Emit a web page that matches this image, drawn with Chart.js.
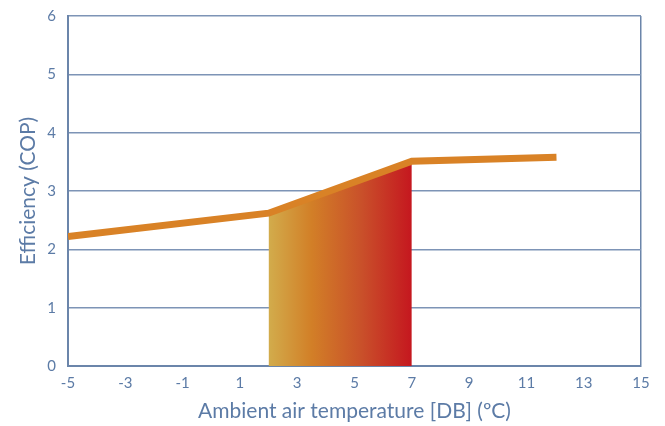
<!DOCTYPE html>
<html>
<head>
<meta charset="utf-8">
<script src="https://cdn.jsdelivr.net/npm/chart.js@4"></script>
<style>
  html, body { margin: 0; padding: 0; background: #fff; }
  #wrap { width: 665px; height: 426px; }
</style>
</head>
<body>
<div id="wrap"><canvas id="chart" width="665" height="426"></canvas></div>
<script>
// COP curve vs ambient temperature
const tempPoints = [-5, 2, 7, 12.05];
const copPoints  = [2.22, 2.62, 3.51, 3.58];
// highlighted band under the curve
const bandTemps  = [2, 7];
const bandCop    = [2.62, 3.51];
const xTicks     = [-5, -3, -1, 1, 3, 5, 7, 9, 11, 13, 15];
const yTicks     = [0, 1, 2, 3, 4, 5, 6];

const axisColor = '#6b85aa';
const textColor = '#5c7ba6';
const fontFam   = 'Lato, "Open Sans", sans-serif';

function bandGradient(ctx) {
    const chart = ctx.chart;
    const { chartArea } = chart;
    if (!chartArea) return '#d07a28';
    const x = chart.scales.x;
    const g = chart.ctx.createLinearGradient(x.getPixelForValue(bandTemps[0]), 0, x.getPixelForValue(bandTemps[1]), 0);
    g.addColorStop(0,    '#d2ac4c');
    g.addColorStop(0.3,  '#d27f27');
    g.addColorStop(0.65, '#c9502a');
    g.addColorStop(1,    '#c5171f');
    return g;
}

new Chart(document.getElementById('chart'), {
    type: 'line',
    data: {
        datasets: [
            {
                label: 'COP',
                data: tempPoints.map((t, i) => ({ x: t, y: copPoints[i] })),
                borderColor: '#d98226',
                borderWidth: 7,
                pointRadius: 0,
                tension: 0,
                fill: false,
                order: 1,
            },
            {
                label: 'band',
                data: bandTemps.map((t, i) => ({ x: t, y: bandCop[i] })),
                borderWidth: 0,
                pointRadius: 0,
                tension: 0,
                fill: 'origin',
                backgroundColor: bandGradient,
                order: 2,
            },
        ],
    },
    options: {
        responsive: false,
        animation: false,
        layout: { padding: { left: 10, right: 24, top: 16, bottom: 2 } },
        plugins: { legend: { display: false }, tooltip: { enabled: false } },
        scales: {
            x: {
                type: 'linear',
                min: -5,
                max: 15,
                afterBuildTicks(scale) { scale.ticks = xTicks.map(v => ({ value: v })); },
                afterFit(scale) { scale.height = 58; },
                grid: {
                    drawTicks: false,
                    color: c => (c.tick && c.tick.value === 15) ? axisColor : 'rgba(0,0,0,0)',
                    lineWidth: 1.5,
                },
                border: { color: axisColor, width: 2 },
                ticks: { color: textColor, font: { family: fontFam, size: 15 }, padding: 8, maxRotation: 0 },
                title: { display: true, text: 'Ambient air temperature [DB] (ºC)', color: textColor, font: { family: fontFam, size: 21 }, padding: { top: 4, bottom: 0 } },
            },
            y: {
                min: 0,
                max: 6,
                afterBuildTicks(scale) { scale.ticks = yTicks.map(v => ({ value: v })); },
                afterFit(scale) { scale.width = 58; scale.paddingTop = 0; scale.paddingBottom = 0; },
                grid: { drawTicks: false, color: '#7d94b6', lineWidth: 1.5 },
                border: { color: axisColor, width: 2 },
                ticks: { color: textColor, font: { family: fontFam, size: 15 }, padding: 12 },
                title: { display: true, text: 'Efficiency (COP)', color: textColor, font: { family: fontFam, size: 21 }, padding: { top: 6, bottom: 4 } },
            },
        },
    },
});
</script>
</body>
</html>
